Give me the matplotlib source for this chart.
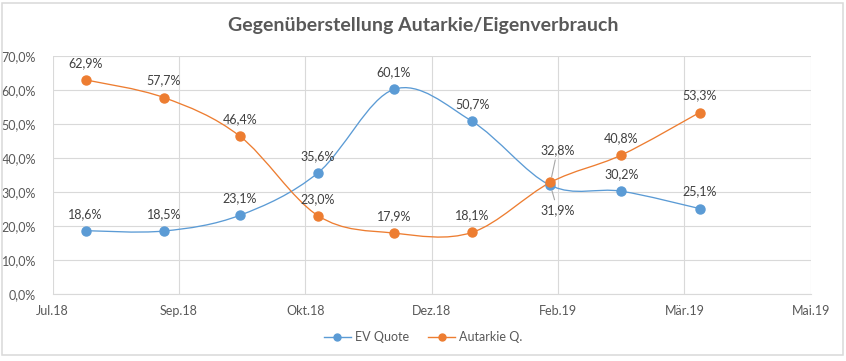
import datetime as dt
import numpy as np
import matplotlib
matplotlib.use("Agg")
import matplotlib.pyplot as plt
import matplotlib.dates as mdates
from matplotlib.path import Path
from matplotlib.patches import PathPatch, Rectangle
from matplotlib.lines import Line2D

plt.rcParams['font.family'] = ['Lato', 'DejaVu Sans']

# data
dates = [dt.date(2018, 8, 1), dt.date(2018, 9, 1), dt.date(2018, 10, 1),
         dt.date(2018, 11, 1), dt.date(2018, 12, 1), dt.date(2019, 1, 1),
         dt.date(2019, 2, 1), dt.date(2019, 3, 1), dt.date(2019, 4, 1)]
ev_quote = [18.6, 18.5, 23.1, 35.6, 60.1, 50.7, 31.9, 30.2, 25.1]
autarkie = [62.9, 57.7, 46.4, 23.0, 17.9, 18.1, 32.8, 40.8, 53.3]
x_labels = ["Jul.18", "Sep.18", "Okt.18", "Dez.18", "Feb.19", "Mär.19", "Mai.19"]

BLUE = "#5B9BD5"
ORANGE = "#ED7D31"
TXT = "#595959"
GRID = "#D9D9D9"

W, H = 846, 361
fig = plt.figure(figsize=(W / 100, H / 100), dpi=100)
ax = fig.add_axes([52.7 / W, 1 - 294 / H, (810.7 - 52.7) / W, (294 - 55.7) / H])

x = mdates.date2num(dates)
x0 = mdates.date2num(dt.date(2018, 7, 19))


def smooth_path(xs, ys):
    # excel-like smoothing: cubic bezier with catmull-rom control points
    pts = np.column_stack([xs, ys])
    n = len(pts)
    verts = [pts[0]]
    codes = [Path.MOVETO]
    for i in range(n - 1):
        p0 = pts[i - 1] if i > 0 else pts[i]
        p1 = pts[i]
        p2 = pts[i + 1]
        p3 = pts[i + 2] if i + 2 < n else pts[i + 1]
        verts += [p1 + (p2 - p0) / 6, p2 - (p3 - p1) / 6, p2]
        codes += [Path.CURVE4] * 3
    return Path(verts, codes)


for ys, col in [(ev_quote, BLUE), (autarkie, ORANGE)]:
    ax.add_patch(PathPatch(smooth_path(x, ys), fill=False, edgecolor=col,
                           lw=0.95, zorder=3, capstyle='round'))
    ax.plot(x, ys, ls='none', marker='o', ms=6.5, color=col, zorder=4)

# data labels
px = 0.72
special = {("a", 6): (7, 32.5), ("e", 6): (7, -24.5)}
for key, ys in [("e", ev_quote), ("a", autarkie)]:
    for i, (xi, yi) in enumerate(zip(x, ys)):
        lbl = f"{yi:.1f}%".replace(".", ",")
        if (key, i) in special:
            dx, dy = special[(key, i)]
            ax.annotate(lbl, (xi, yi), xytext=(dx * px, dy * px), textcoords='offset points',
                        ha='center', va='center', fontsize=9, color="#404040",
                        arrowprops=dict(arrowstyle='-', color="#A6A6A6", lw=0.8,
                                        shrinkA=1, shrinkB=4), zorder=5)
        else:
            ax.annotate(lbl, (xi, yi), xytext=(0, 17 * px), textcoords='offset points',
                        ha='center', va='center', fontsize=9, color="#404040", zorder=5)

ticks = [x0 + 50 * k for k in range(len(x_labels))]
ax.set_xlim(ticks[0], ticks[-1])
ax.set_xticks(ticks)
ax.set_xticklabels(x_labels)
ax.set_ylim(0, 70)
ax.set_yticks(range(0, 71, 10))
ax.set_yticklabels([f"{v:.1f}%".replace(".", ",") for v in range(0, 71, 10)])

ax.grid(True, color=GRID, lw=0.8)
ax.set_axisbelow(True)
for s in ["top", "right", "left"]:
    ax.spines[s].set_visible(False)
ax.spines["bottom"].set_color(GRID)
ax.spines["bottom"].set_linewidth(0.8)
ax.tick_params(length=0, labelsize=9, labelcolor=TXT)
ax.tick_params(axis='y', pad=12)
ax.tick_params(axis='x', pad=8)

fig.text(0.5, 1 - 25 / H, "Gegenüberstellung Autarkie/Eigenverbrauch", ha='center', va='center',
         fontsize=14, fontweight='bold', color=TXT)

handles = [Line2D([], [], color=BLUE, lw=1.0, marker='o', ms=5),
           Line2D([], [], color=ORANGE, lw=1.0, marker='o', ms=5)]
fig.legend(handles, ["EV Quote", "Autarkie Q."], loc='center', bbox_to_anchor=(0.5, 1 - 337 / H),
           ncol=2, frameon=False, fontsize=9, handlelength=2.2, columnspacing=1.5,
           labelcolor=TXT, handletextpad=0.3)

fig.patches.append(Rectangle((2.3 / W, 1 - 355.3 / H), (842.7 - 2.3) / W, (355.3 - 3.3) / H,
                             transform=fig.transFigure, fill=False, edgecolor=GRID, lw=1.1))

fig.savefig("out.png", dpi=100)
